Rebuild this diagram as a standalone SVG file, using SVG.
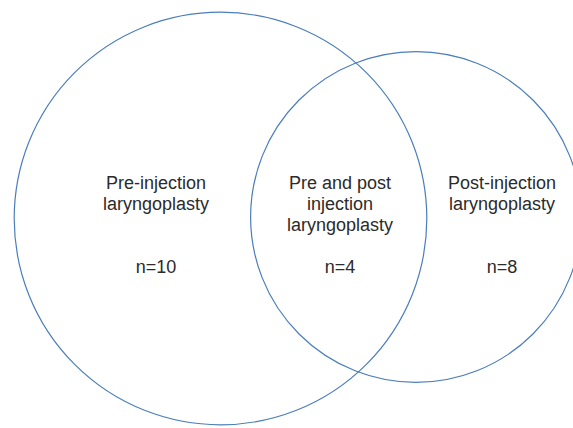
<svg xmlns="http://www.w3.org/2000/svg" width="573" height="428" viewBox="0 0 573 428">
<style>
.c{fill:none;stroke:#4a7ebb;stroke-width:1.2}
.t{font-family:"Liberation Sans",Arial,sans-serif;font-size:18px;fill:#2b2b2b;text-anchor:middle}
</style>
<rect width="573" height="428" fill="#fff"/>
<g id="pre">
<circle class="c" cx="220.5" cy="218.5" r="206.3"/>
<text class="t" x="156" y="188.5">Pre-injection</text>
<text class="t" x="156" y="209.5">laryngoplasty</text>
<text class="t" x="156" y="272.5">n=10</text>
</g>
<g id="post">
<circle class="c" cx="416" cy="217" r="165.4"/>
<text class="t" x="502" y="188.5">Post-injection</text>
<text class="t" x="502" y="209.5">laryngoplasty</text>
<text class="t" x="502" y="272.5">n=8</text>
</g>
<g id="both">
<text class="t" x="340" y="188.5">Pre and post</text>
<text class="t" x="340" y="209.5">injection</text>
<text class="t" x="340" y="230.5">laryngoplasty</text>
<text class="t" x="340" y="272.5">n=4</text>
</g>
<g id="connectors"></g>
</svg>
